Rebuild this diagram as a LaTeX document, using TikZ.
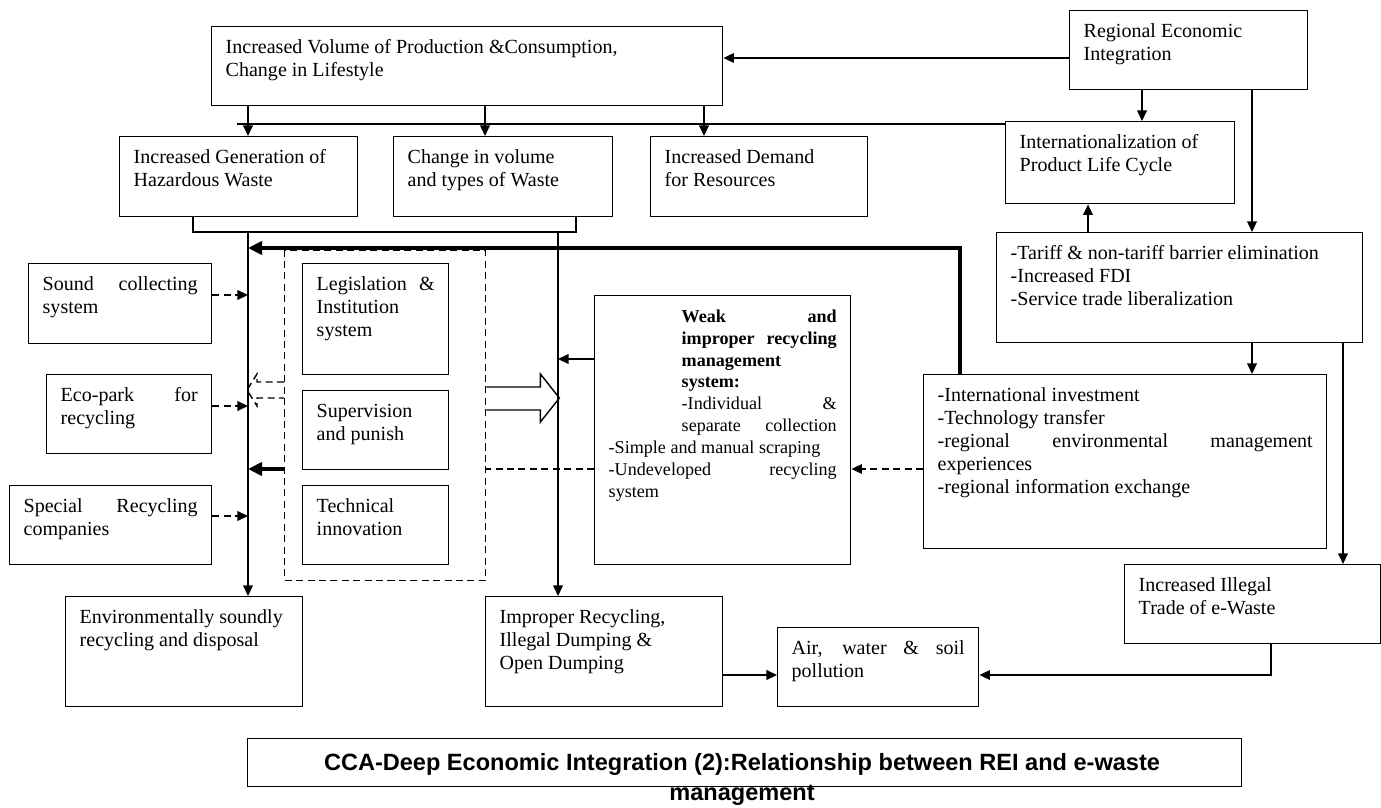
\documentclass[tikz,border=0pt]{standalone}
\usepackage{fontspec}
\setmainfont{Liberation Serif}
\newfontfamily\capfont{Liberation Sans}
\usetikzlibrary{arrows.meta}

\newlength{\px}\setlength{\px}{0.02cm}
\newcommand{\boxfont}{\fontsize{11.4}{13}\selectfont}
\newcommand{\weakfont}{\fontsize{10.3}{12.5}\selectfont}
% top aligned text block of a box, w x h in px
\newcommand{\bx}[3]{\parbox[t][\dimexpr#2\px-22\px\relax][t]{\dimexpr#1\px-28\px\relax}{\strut#3}}

\begin{document}
\begin{tikzpicture}[x=0.02cm, y=-0.02cm, line width=0.8pt,
    >={Triangle[length=6pt,width=5.5pt]},
    box/.style={draw, anchor=north west, inner xsep=14\px, inner ysep=11\px, font=\boxfont},
    dsh/.style={dash pattern=on 4pt off 2.5pt},
    heavy/.style={line width=2.4pt, -{Triangle[length=8pt,width=7.5pt]}}]
\useasboundingbox (0,0) rectangle (1381,807);

\node[box] (top) at (211,26) {\bx{511}{79}{Increased Volume of Production \&Consumption,\\Change in Lifestyle}};
\node[box] (rei) at (1069,10) {\bx{238}{79}{Regional Economic\\Integration}};
\node[box] (gen) at (119,136) {\bx{238}{80}{Increased Generation of\\Hazardous Waste}};
\node[box] (chg) at (393,136) {\bx{219}{80}{Change in volume\\and types of Waste}};
\node[box] (dem) at (650,136) {\bx{217}{80}{Increased Demand\\for Resources}};
\node[box] (plc) at (1005,121) {\bx{229}{82}{Internationalization of\\Product Life Cycle}};
\node[box] (tar) at (996,232) {\bx{366}{110}{-Tariff \& non-tariff barrier elimination\\-Increased FDI\\-Service trade liberalization}};

\node[box] (snd) at (28,263) {\bx{183}{80}{Sound collecting\linebreak system}};
\node[box] (eco) at (46,374) {\bx{165}{79}{Eco-park for\linebreak recycling}};
\node[box] (spc) at (9,485) {\bx{202}{79}{Special Recycling\linebreak companies}};

\node[draw, dsh, anchor=north west, minimum width=201\px, minimum height=330\px, inner sep=0pt] (pol) at (284,250) {};
\node[box] (leg) at (302,263) {\bx{146}{111}{Legislation \&\linebreak Institution\\system}};
\node[box] (sup) at (302,390) {\bx{146}{79}{Supervision\\and punish}};
\node[box] (tec) at (302,485) {\bx{146}{79}{Technical\\innovation}};

\node[box, font=\weakfont] (weak) at (594,295) {\bx{256}{269}{\hangindent=73\px \hangafter=-6
  \textbf{Weak and}\linebreak \textbf{improper recycling}\linebreak \textbf{management}\\\textbf{system:}\\
  -Individual \&\linebreak separate collection\linebreak -Simple and manual scraping\\-Undeveloped recycling\linebreak system}};
\node[box] (intl) at (923,374) {\bx{403}{174}{-International investment\\-Technology transfer\\-regional environmental management\linebreak experiences\\-regional information exchange}};

\node[box] (env) at (65,596) {\bx{237}{110}{Environmentally soundly\\recycling and disposal}};
\node[box] (imp) at (485,596) {\bx{237}{110}{Improper Recycling,\\Illegal Dumping \&\\Open Dumping}};
\node[box] (air) at (777,627) {\bx{201}{79}{Air, water \& soil\linebreak pollution}};
\node[box] (ill) at (1124,564) {\bx{256}{79}{Increased Illegal\\Trade of e-Waste}};

\node[draw, anchor=north west, minimum width=994\px, minimum height=48\px, inner sep=0pt] (cap) at (247,738) {};
\node[anchor=north, inner sep=0pt, align=center, font=\capfont\bfseries\fontsize{13.4}{17}\selectfont] (captxt) at (742,749)
  {\strut CCA-Deep Economic Integration (2):Relationship between REI and e-waste\\management};

\coordinate (brL) at (248,232);
\coordinate (brR) at (558,232);
\coordinate (hl) at (237,124);

% top part
\draw[->] (rei.west |- 0,58) -- (top.east |- 0,58);
\draw (hl) -- (plc.west |- hl);
\draw[->] (top.south -| brL) -- (gen.north -| brL);
\draw[->] (top.south -| 485,0) -- (chg.north -| 485,0);
\draw[->] (top.south -| 704,0) -- (dem.north -| 704,0);
\draw[->] (rei.south -| 1142,0) -- (plc.north -| 1142,0);
\draw[->] (rei.south -| 1252,0) -- (tar.north -| 1252,0);
\draw[->] (tar.north -| 1088,0) -- (plc.south -| 1088,0);
\draw[->] (tar.south -| 1252,0) -- (intl.north -| 1252,0);
\draw[->] (tar.south -| 1343,0) -- (ill.north -| 1343,0);

% waste streams
\draw (gen.south -| 193,0) |- (brL) -- (brR) -| (chg.south -| 576,0);
\draw[->] (brL) -- (env.north -| brL);
\draw[->] (brR) -- (imp.north -| brR);
\draw[heavy] (intl.north -| 960,0) |- (brL |- 0,248);

\draw[dsh, ->] (snd.east |- 0,295) -- (brL |- 0,295);
\draw[dsh, ->] (eco.east |- 0,406) -- (brL |- 0,406);
\draw[dsh, ->] (spc.east |- 0,516) -- (brL |- 0,516);

\draw[->] (weak.west |- 0,359) -- (brR |- 0,359);
\draw[dsh, ->] (intl.west |- 0,469) -- (weak.east |- 0,469);
\draw[dsh] (weak.west |- 0,469) -- (pol.east |- 0,469);
\draw[heavy] (pol.west |- 0,469) -- (brL |- 0,469);

% block arrows
\draw[dsh] (pol.west |- 0,382) -- ++(-27,0) -- ++(0,-8) -- ++(-10,16) -- ++(10,16) -- ++(0,-8) -- ++(27,0);
\draw (pol.east |- 0,387) -- ++(54,0) -- ++(0,-13) -- ++(19,24) -- ++(-19,24) -- ++(0,-12) -- ++(-54,0);

% bottom
\draw[->] (ill.south -| 1271,0) |- (air.east |- 0,675);
\draw[->] (imp.east |- 0,675) -- (air.west |- 0,675);
\end{tikzpicture}
\end{document}
